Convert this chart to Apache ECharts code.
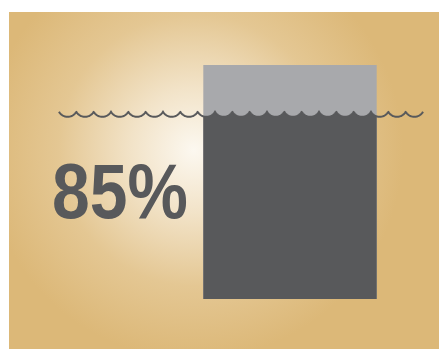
<!DOCTYPE html>
<html>
<head>
<meta charset="utf-8">
<style>
  html, body { margin: 0; padding: 0; background: #ffffff; }
  #chart { width: 439px; height: 349px; }
</style>
<script src="https://cdn.jsdelivr.net/npm/echarts@6/dist/echarts.min.js"></script>
</head>
<body>
<div id="chart"></div>
<script>
// data
var categories = ['share'];
var barTotal = [100];     // full bar (light gray)
var waterLevel = [80];    // where the wavy line sits on the bar
var labels = ['85%'];

var DARK = '#58595b';
var LIGHT = '#a8a9ac';

var chart = echarts.init(document.getElementById('chart'));

// scalloped line: circular arcs hanging below the level, cusps at the level
function waveY(x, x0, period, y0, sag) {
  var R = (period * period / 4 + sag * sag) / (2 * sag);
  var t = (x - x0) % period;
  if (t < 0) t += period;
  var dx = t - period / 2;
  return y0 + Math.sqrt(Math.max(R * R - dx * dx, 0)) - (R - sag);
}

function renderWave(params, api) {
  var lvl = api.value(1);
  var base = api.coord([api.value(0), 0]);
  var top = api.coord([api.value(0), lvl]);
  var bw = api.size([1, 0])[0];
  var bx0 = base[0] - bw / 2, bx1 = base[0] + bw / 2;

  var wx0 = 59, wx1 = 423, arcs = 21, sag = 5;
  var period = (wx1 - wx0) / arcs;

  var fill = [[bx0, base[1]]];
  for (var x = bx0; x <= bx1; x += 0.5) fill.push([x, waveY(x, wx0, period, top[1], sag)]);
  fill.push([bx1, waveY(bx1, wx0, period, top[1], sag)]);
  fill.push([bx1, base[1]]);

  var line = [];
  for (var x2 = wx0; x2 <= wx1 + 0.01; x2 += 0.5) {
    var xx = Math.min(x2, wx1);
    line.push([xx, Math.abs(xx - wx1) < 0.01 ? top[1] : waveY(xx, wx0, period, top[1], sag)]);
  }

  return {
    type: 'group',
    children: [
      { type: 'polygon', shape: { points: fill }, style: { fill: DARK } },
      { type: 'polyline', shape: { points: line }, style: { stroke: DARK, lineWidth: 2, fill: null } }
    ]
  };
}

var option = {
  animation: false,
  grid: { left: 203.3, right: 62.3, top: 65, bottom: 50 },
  xAxis: { type: 'category', data: categories, show: false },
  yAxis: { type: 'value', min: 0, max: 100, show: false },
  graphic: [
    {
      type: 'rect', z: -100,
      shape: { x: 9, y: 12, width: 430, height: 337 },
      style: {
        fill: {
          type: 'radial', x: 0.43, y: 0.41, r: 0.62,
          colorStops: [
            { offset: 0, color: '#fcf8f0' },
            { offset: 0.3, color: '#f2e3c8' },
            { offset: 0.65, color: '#e4c793' },
            { offset: 1, color: '#dcb878' }
          ]
        }
      }
    },
    {
      type: 'text', z: 100,
      x: 52, y: 196, scaleX: 0.87, originX: 0, originY: 0,
      style: {
        text: labels[0],
        font: 'bold 78px "Liberation Sans", Arial, sans-serif',
        fill: DARK,
        textAlign: 'left',
        textVerticalAlign: 'middle'
      }
    }
  ],
  series: [
    {
      type: 'bar',
      data: barTotal,
      barWidth: '100%',
      itemStyle: { color: LIGHT },
      silent: true
    },
    {
      type: 'custom',
      data: [[0, waterLevel[0]]],
      renderItem: renderWave,
      clip: false,
      silent: true,
      z: 3
    }
  ]
};

chart.setOption(option);
</script>
</body>
</html>
